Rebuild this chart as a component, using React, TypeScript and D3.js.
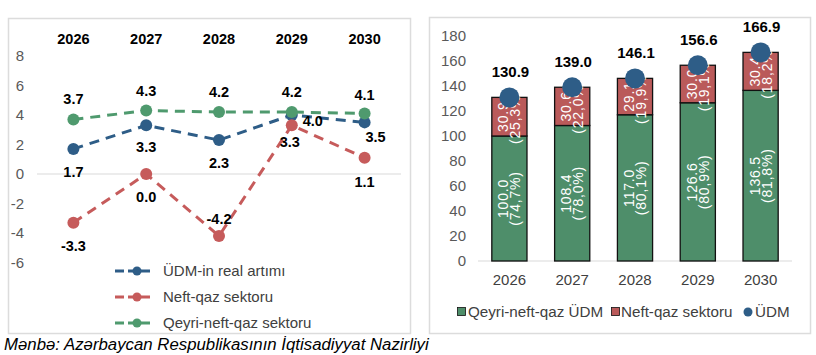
import React from "react";
import * as d3 from "d3";

const years = ["2026", "2027", "2028", "2029", "2030"];
const gdpGrowth = [1.7, 3.3, 2.3, 4.0, 3.5];
const oilGasGrowth = [-3.3, 0.0, -4.2, 3.3, 1.1];
const nonOilGrowth = [3.7, 4.3, 4.2, 4.2, 4.1];
const leftTicks = [-6, -4, -2, 0, 2, 4, 6, 8];

const nonOilGdp = [100.0, 108.4, 117.0, 126.6, 136.5];
const nonOilShare = ["74,7%", "78,0%", "80,1%", "80,9%", "81,8%"];
const oilGasGdp = [30.9, 30.6, 29.1, 30.0, 30.4];
const oilGasShare = ["25,3%", "22,0%", "19,9%", "19,1%", "18,2%"];
const totalGdp = [130.9, 139.0, 146.1, 156.6, 166.9];
const rightTicks = [0, 20, 40, 60, 80, 100, 120, 140, 160, 180];

const FONT = "'Liberation Sans', Arial, sans-serif";
const C_BLUE = "#2E5D87";
const C_RED = "#C65B5B";
const C_GREEN = "#4F9A6E";
const BAR_GREEN = "#4E8E6A";
const BAR_RED = "#BA5A5A";

type Off = [number, number];
const gdpOff: Off[] = [[0, 23], [0, 22], [0, 23], [21, 6], [11, 15]];
const oilOff: Off[] = [[0, 23], [0, 23], [0, -17], [-2, 17], [0, 24]];
const nonOilOff: Off[] = [[0, -20], [0, -20], [0, -20], [0, -20], [0, -19]];

export default function App() {
  // LEFT chart scales
  const xL = d3.scaleBand<string>().domain(years).range([37, 401]);
  const cxL = (y: string) => (xL(y) as number) + xL.bandwidth() / 2;
  const yL = d3.scaleLinear().domain([-6, 8]).range([262.5, 56]);
  const line = d3
    .line<number>()
    .x((_, i) => cxL(years[i]))
    .y((d) => yL(d));

  const series = [
    { name: "ÜDM-in real artımı", vals: gdpGrowth, color: C_BLUE, off: gdpOff },
    { name: "Neft-qaz sektoru", vals: oilGasGrowth, color: C_RED, off: oilOff },
    { name: "Qeyri-neft-qaz sektoru", vals: nonOilGrowth, color: C_GREEN, off: nonOilOff },
  ];

  // RIGHT chart scales
  const xR = d3
    .scaleBand<string>()
    .domain(years)
    .range([478, 792])
    .paddingInner(0.44)
    .paddingOuter(0.22);
  const cxR = (y: string) => (xR(y) as number) + xR.bandwidth() / 2;
  const yR = d3.scaleLinear().domain([0, 180]).range([261, 36]);

  return (
    <svg
      width={816}
      height={355}
      style={{ position: "absolute", left: 0, top: 0, background: "#fff" }}
      fontFamily={FONT}
    >
      <rect x={0} y={0} width={816} height={355} fill="#fff" />
      {/* panel borders */}
      <rect x={8.5} y={18.5} width={402} height={315} fill="none" stroke="#DCDCDC" strokeWidth={1.5} />
      <rect x={429.5} y={17.5} width={381} height={316} fill="none" stroke="#DCDCDC" strokeWidth={1.5} />

      {/* LEFT CHART */}
      {years.map((y) => (
        <text key={y} x={cxL(y)} y={44} textAnchor="middle" fontSize={14.5} fontWeight="bold" fill="#000">
          {y}
        </text>
      ))}
      {leftTicks.map((t) => (
        <text key={t} x={24} y={yL(t) + 5} textAnchor="end" fontSize={15} fill="#595959">
          {t}
        </text>
      ))}
      <line x1={37} x2={401} y1={yL(0)} y2={yL(0)} stroke="#D9D9D9" strokeWidth={1} />

      {series.map((s) => (
        <g key={s.name}>
          <path
            d={line(s.vals) as string}
            fill="none"
            stroke={s.color}
            strokeWidth={3}
            strokeDasharray="10,7"
          />
          {s.vals.map((v, i) => (
            <circle key={i} cx={cxL(years[i])} cy={yL(v)} r={6} fill={s.color} />
          ))}
        </g>
      ))}
      {series.map((s) =>
        s.vals.map((v, i) => (
          <text
            key={s.name + i}
            x={cxL(years[i]) + s.off[i][0]}
            y={yL(v) + s.off[i][1] + 5}
            textAnchor="middle"
            fontSize={14.5}
            fontWeight="bold"
            fill="#000"
          >
            {v.toFixed(1)}
          </text>
        ))
      )}

      {/* left legend */}
      {series.map((s, i) => {
        const ly = 271 + i * 26;
        return (
          <g key={s.name}>
            <line x1={115} x2={150} y1={ly} y2={ly} stroke={s.color} strokeWidth={3} strokeDasharray="9,4" />
            <circle cx={137} cy={ly} r={4.5} fill={s.color} />
            <text x={163} y={ly + 5} fontSize={15} fill="#404040">
              {s.name}
            </text>
          </g>
        );
      })}

      {/* RIGHT CHART */}
      {rightTicks.map((t) => (
        <text key={t} x={466} y={yR(t) + 5} textAnchor="end" fontSize={15} fill="#595959">
          {t}
        </text>
      ))}
      <line x1={478} x2={792} y1={yR(0)} y2={yR(0)} stroke="#D9D9D9" strokeWidth={1} />
      {years.map((y, i) => {
        const x0 = xR(y) as number;
        const w = xR.bandwidth();
        const gTop = yR(nonOilGdp[i]);
        const rTop = yR(nonOilGdp[i] + oilGasGdp[i]);
        return (
          <g key={y}>
            <rect x={x0} y={gTop} width={w} height={yR(0) - gTop} fill={BAR_GREEN} stroke="#111" strokeWidth={1.3} />
            <rect x={x0} y={rTop} width={w} height={gTop - rTop} fill={BAR_RED} stroke="#111" strokeWidth={1.3} />
          </g>
        );
      })}
      {years.map((y, i) => {
        const cx = cxR(y);
        const gMid = (yR(0) + yR(nonOilGdp[i])) / 2;
        const rMid = (yR(nonOilGdp[i]) + yR(totalGdp[i])) / 2;
        return (
          <g key={y} fill="#fff" fontSize={14} letterSpacing={0.8}>
            <g transform={`translate(${cx},${gMid}) rotate(-90)`}>
              <text x={0} y={-6} textAnchor="middle" dominantBaseline="central">
                {nonOilGdp[i].toFixed(1)}
              </text>
              <text x={0} y={6} textAnchor="middle" dominantBaseline="central">
                ({nonOilShare[i]})
              </text>
            </g>
            <g transform={`translate(${cx},${rMid}) rotate(-90)`}>
              <text x={0} y={-6} textAnchor="middle" dominantBaseline="central">
                {oilGasGdp[i].toFixed(1)}
              </text>
              <text x={0} y={6} textAnchor="middle" dominantBaseline="central">
                ({oilGasShare[i]})
              </text>
            </g>
          </g>
        );
      })}
      {years.map((y, i) => (
        <g key={y}>
          <circle cx={cxR(y)} cy={yR(totalGdp[i])} r={10} fill={C_BLUE} />
          <text
            x={cxR(y) + 1}
            y={yR(totalGdp[i]) - 20}
            textAnchor="middle"
            fontSize={15}
            fontWeight="bold"
            fill="#000"
          >
            {totalGdp[i].toFixed(1)}
          </text>
          <text x={cxR(y)} y={285} textAnchor="middle" fontSize={15} fill="#404040">
            {y}
          </text>
        </g>
      ))}

      {/* right legend */}
      <rect x={457.5} y={307.5} width={8} height={8} fill={BAR_GREEN} stroke="#111" strokeWidth={0.8} />
      <text x={468} y={317} fontSize={15.2} fill="#404040">Qeyri-neft-qaz ÜDM</text>
      <rect x={611.5} y={307.5} width={8} height={8} fill={BAR_RED} stroke="#111" strokeWidth={0.8} />
      <text x={621} y={317} fontSize={15.2} fill="#404040">Neft-qaz sektoru</text>
      <circle cx={748} cy={312} r={4.5} fill={C_BLUE} />
      <text x={755} y={317} fontSize={15.2} fill="#404040">ÜDM</text>

      {/* source */}
      <text x={4} y={350} fontSize={16.8} fontStyle="italic" fill="#000">
        Mənbə: Azərbaycan Respublikasının İqtisadiyyat Nazirliyi
      </text>
    </svg>
  );
}
